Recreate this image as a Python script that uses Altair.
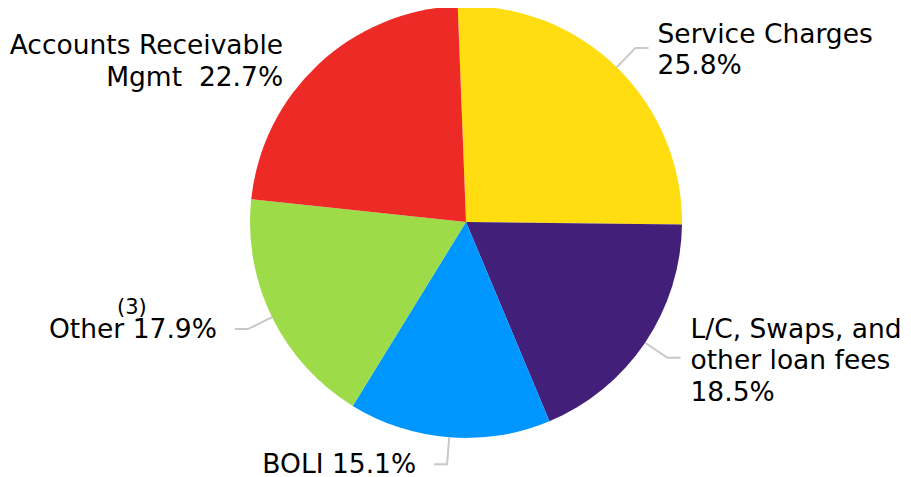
import math
import altair as alt
import pandas as pd

# ---- data ----
categories = ["Service Charges", "L/C, Swaps, and other loan fees", "BOLI", "Other", "Accounts Receivable Mgmt"]
shares = [25.8, 18.5, 15.1, 17.9, 22.7]
label_texts = [
    "Service Charges\n25.8%",
    "L/C, Swaps, and\nother loan fees\n18.5%",
    "BOLI 15.1%",
    "Other 17.9%",
    "Accounts Receivable\nMgmt\u00a0 22.7%",
]
note_category = "Other"
note_text = "(3)"
colors = ["#FFDD11", "#42207A", "#0096FF", "#9DDB48", "#EE2A26"]

# ---- layout (screen pixels) ----
W, H = 895, 469
CX, CY = 466, 222
R = 216
R_ELBOW = 243
TAIL = 13
START_DEG = -2.2
FONT = "DejaVu Sans"
FONT_SIZE = 26.5
# per label: has leader line, side, text dx, text dy (from tail end / elbow)
layout = {
    "Service Charges": dict(line=True, side=1, dx=9, dy=-5),
    "L/C, Swaps, and other loan fees": dict(line=True, side=1, dx=10, dy=-20),
    "BOLI": dict(line=True, side=-1, dx=-18, dy=9),
    "Other": dict(line=True, side=-1, dx=-18, dy=9),
    "Accounts Receivable Mgmt": dict(line=False, side=-1, dx=-17, dy=10),
}

total = sum(shares)
rows, line_rows, text_rows, note_rows = [], [], [], []
cum = 0.0
for i, (cat, s, lab) in enumerate(zip(categories, shares, label_texts)):
    rows.append(dict(idx=i, category=cat, share=s, cx=CX, cy=CY))
    mid = math.radians(START_DEG + 360 * (cum + s / 2) / total)
    cum += s
    ex, ey = CX + R * math.sin(mid), CY - R * math.cos(mid)
    bx, by = CX + R_ELBOW * math.sin(mid), CY - R_ELBOW * math.cos(mid)
    L = layout[cat]
    tx, ty = bx + L["side"] * TAIL, by
    if L["line"]:
        for seq, (px, py) in enumerate([(ex, ey), (bx, by), (tx, ty)]):
            line_rows.append(dict(category=cat, seq=seq, px=px, py=py))
        anchor_x = tx
    else:
        anchor_x = bx
    text_rows.append(dict(category=cat, label=lab, lx=anchor_x + L["dx"], ly=by + L["dy"],
                          align="left" if L["side"] > 0 else "right"))
    if cat == note_category:
        note_rows.append(dict(label=note_text, lx=tx - 103, ly=by - 15))

pie_df = pd.DataFrame(rows)
line_df = pd.DataFrame(line_rows)
text_df = pd.DataFrame(text_rows)
note_df = pd.DataFrame(note_rows)

xs = alt.Scale(domain=[8, 8 + W], nice=False, zero=False)
ys = alt.Scale(domain=[8, 8 + H], nice=False, zero=False, reverse=True)
start = math.radians(START_DEG)

pie = alt.Chart(pie_df).mark_arc(radius=R).encode(
    theta=alt.Theta("share:Q", stack=True, scale=alt.Scale(range=[start, start + 2 * math.pi])),
    order=alt.Order("idx:Q"),
    color=alt.Color("category:N", scale=alt.Scale(domain=categories, range=colors), legend=None),
    x=alt.X("cx:Q", scale=xs, axis=None),
    y=alt.Y("cy:Q", scale=ys, axis=None),
)

lines = alt.Chart(line_df).mark_line(color="#C8C8C8", strokeWidth=2).encode(
    x=alt.X("px:Q", scale=xs, axis=None),
    y=alt.Y("py:Q", scale=ys, axis=None),
    detail="category:N",
    order="seq:Q",
)

def text_layer(df, align, size):
    return alt.Chart(df).mark_text(
        align=align, baseline="alphabetic", font=FONT, fontSize=size,
        lineBreak="\n", lineHeight=31.5, color="#000000",
    ).encode(
        x=alt.X("lx:Q", scale=xs, axis=None),
        y=alt.Y("ly:Q", scale=ys, axis=None),
        text="label:N",
    )

left_text = text_layer(text_df[text_df["align"] == "left"], "left", FONT_SIZE)
right_text = text_layer(text_df[text_df["align"] == "right"], "right", FONT_SIZE)
note = text_layer(note_df, "center", 21)

chart = alt.layer(pie, lines, left_text, right_text, note).properties(
    width=W, height=H, padding=0, autosize="none", background="white"
).configure_view(stroke=None)

chart.save("out.html", embed_options={"renderer": "svg", "actions": False})
